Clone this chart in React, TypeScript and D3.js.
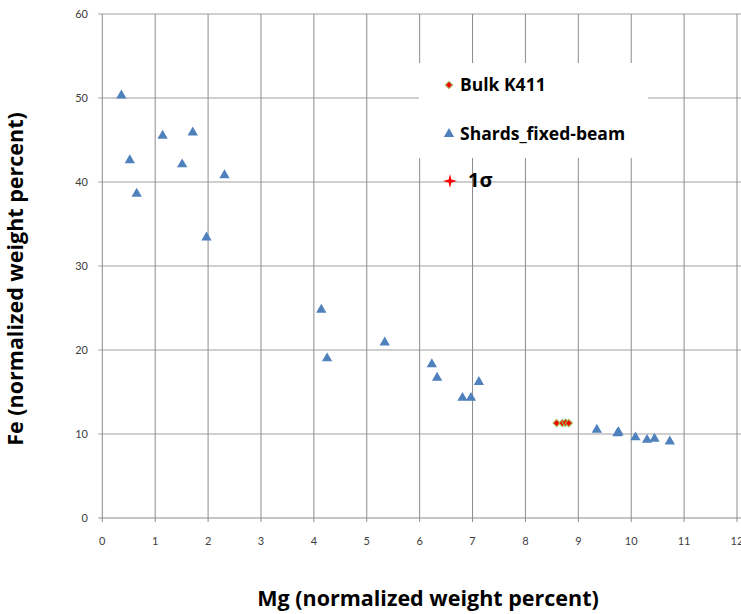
import React, { useRef, useEffect } from 'react';
import * as d3 from 'd3';

// Mg / Fe values
const shardsMg = [0.36, 0.52, 0.65, 1.14, 1.51, 1.71, 1.97, 2.31, 4.14, 4.25, 5.34, 6.23, 6.33, 6.81, 6.97, 7.12, 9.35, 9.74, 9.76, 10.08, 10.3, 10.44, 10.73];
const shardsFe = [50.3, 42.6, 38.6, 45.5, 42.1, 45.9, 33.4, 40.8, 24.8, 19.0, 20.9, 18.3, 16.7, 14.3, 14.3, 16.2, 10.5, 10.1, 10.2, 9.6, 9.3, 9.44, 9.1];
const bulkMg = [8.59, 8.7, 8.76, 8.82];
const bulkFe = [11.3, 11.3, 11.35, 11.3];
const xTicks = [0, 1, 2, 3, 4, 5, 6, 7, 8, 9, 10, 11, 12];
const yTicks = [0, 10, 20, 30, 40, 50, 60];
const legendNames = ['Bulk K411', 'Shards_fixed-beam'];

const star4 = {
  draw(ctx: any, size: number) {
    const r = Math.sqrt(size) / 2;
    const ri = r * 0.28;
    for (let i = 0; i < 8; i++) {
      const a = (i * Math.PI) / 4 - Math.PI / 2;
      const rr = i % 2 === 0 ? r : ri;
      const px = Math.cos(a) * rr;
      const py = Math.sin(a) * rr;
      if (i === 0) ctx.moveTo(px, py);
      else ctx.lineTo(px, py);
    }
    ctx.closePath();
  },
};

const App = () => {
  const svgRef = useRef(null);

  useEffect(() => {
    document.body.style.margin = '0';
    const width = 741;
    const height = 614;
    const svg = d3.select(svgRef.current).attr('width', width).attr('height', height);
    svg.selectAll('*').remove();

    const x = d3.scaleLinear().domain([0, 12]).range([102.3, 737]);
    const y = d3.scaleLinear().domain([0, 60]).range([518, 14]);
    const font = '"Open Sans", Lato, sans-serif';
    const tickFont = 'Lato, sans-serif';

    // grid lines
    svg.append('g').selectAll('line').data(yTicks.slice(1)).enter().append('line')
      .attr('x1', x(0) - 4).attr('x2', width)
      .attr('y1', d => y(d)).attr('y2', d => y(d))
      .attr('stroke', '#bfbfbf').attr('stroke-width', 1.6);
    svg.append('g').selectAll('line').data(xTicks.slice(1)).enter().append('line')
      .attr('x1', d => x(d)).attr('x2', d => x(d))
      .attr('y1', y(60)).attr('y2', y(0) + 4)
      .attr('stroke', '#8c8c8c').attr('stroke-width', 1);

    // axes
    svg.append('line').attr('x1', x(0)).attr('x2', x(0)).attr('y1', y(60)).attr('y2', y(0) + 4)
      .attr('stroke', '#8c8c8c');
    svg.append('line').attr('x1', x(0) - 4).attr('x2', width).attr('y1', y(0)).attr('y2', y(0))
      .attr('stroke', '#8c8c8c');

    svg.append('g').selectAll('text').data(yTicks).enter().append('text')
      .attr('x', 88).attr('y', d => y(d)).attr('dy', '0.35em')
      .attr('text-anchor', 'end')
      .style('font-family', tickFont).style('font-size', '11px').style('fill', '#404040')
      .text(d => d);
    svg.append('g').selectAll('text').data(xTicks).enter().append('text')
      .attr('x', d => x(d)).attr('y', 545)
      .attr('text-anchor', 'middle')
      .style('font-family', tickFont).style('font-size', '11px').style('fill', '#404040')
      .text(d => d);

    // axis titles
    svg.append('text')
      .attr('transform', 'translate(23,279) rotate(-90)')
      .attr('text-anchor', 'middle')
      .style('font-family', font).style('font-size', '21.5px').style('font-weight', 'bold')
      .text('Fe (normalized weight percent)');
    svg.append('text')
      .attr('x', 428).attr('y', 606)
      .attr('text-anchor', 'middle')
      .style('font-family', font).style('font-size', '21.5px').style('font-weight', 'bold')
      .text('Mg (normalized weight percent)');

    // legend box
    svg.append('rect').attr('x', 419).attr('y', 63).attr('width', 229).attr('height', 95)
      .attr('fill', 'white');

    const tri = d3.symbol().type(d3.symbolTriangle).size(46);
    const dia = d3.symbol().type(d3.symbolSquare).size(26);
    const star = d3.symbol().type(star4 as any).size(200);

    // shards
    svg.append('g').selectAll('path').data(shardsMg).enter().append('path')
      .attr('d', tri)
      .attr('transform', (d, i) => `translate(${x(d)},${y(shardsFe[i])})`)
      .attr('fill', '#4f81bd');

    // bulk
    svg.append('g').selectAll('path').data(bulkMg).enter().append('path')
      .attr('d', dia)
      .attr('transform', (d, i) => `translate(${x(d)},${y(bulkFe[i])}) rotate(45)`)
      .attr('fill', '#ff0000').attr('stroke', '#9bbb59').attr('stroke-width', 1);

    // legend entries
    svg.append('path').attr('d', dia).attr('transform', 'translate(449,85) rotate(45)')
      .attr('fill', '#ff0000').attr('stroke', '#9bbb59').attr('stroke-width', 1);
    svg.append('path').attr('d', tri).attr('transform', 'translate(449,134)')
      .attr('fill', '#4f81bd');
    legendNames.forEach((n, i) => {
      svg.append('text').attr('x', 460).attr('y', i === 0 ? 91 : 140)
        .style('font-family', font).style('font-size', '17.5px').style('font-weight', 'bold')
        .text(n);
    });
    svg.append('path').attr('d', star).attr('transform', 'translate(450,181)')
      .attr('fill', '#ff0000');
    svg.append('text').attr('x', 468).attr('y', 187)
      .style('font-family', font).style('font-size', '20px').style('font-weight', 'bold')
      .text('1σ');
  }, []);

  return (
    <div>
      <svg ref={svgRef} />
    </div>
  );
};

export default App;
